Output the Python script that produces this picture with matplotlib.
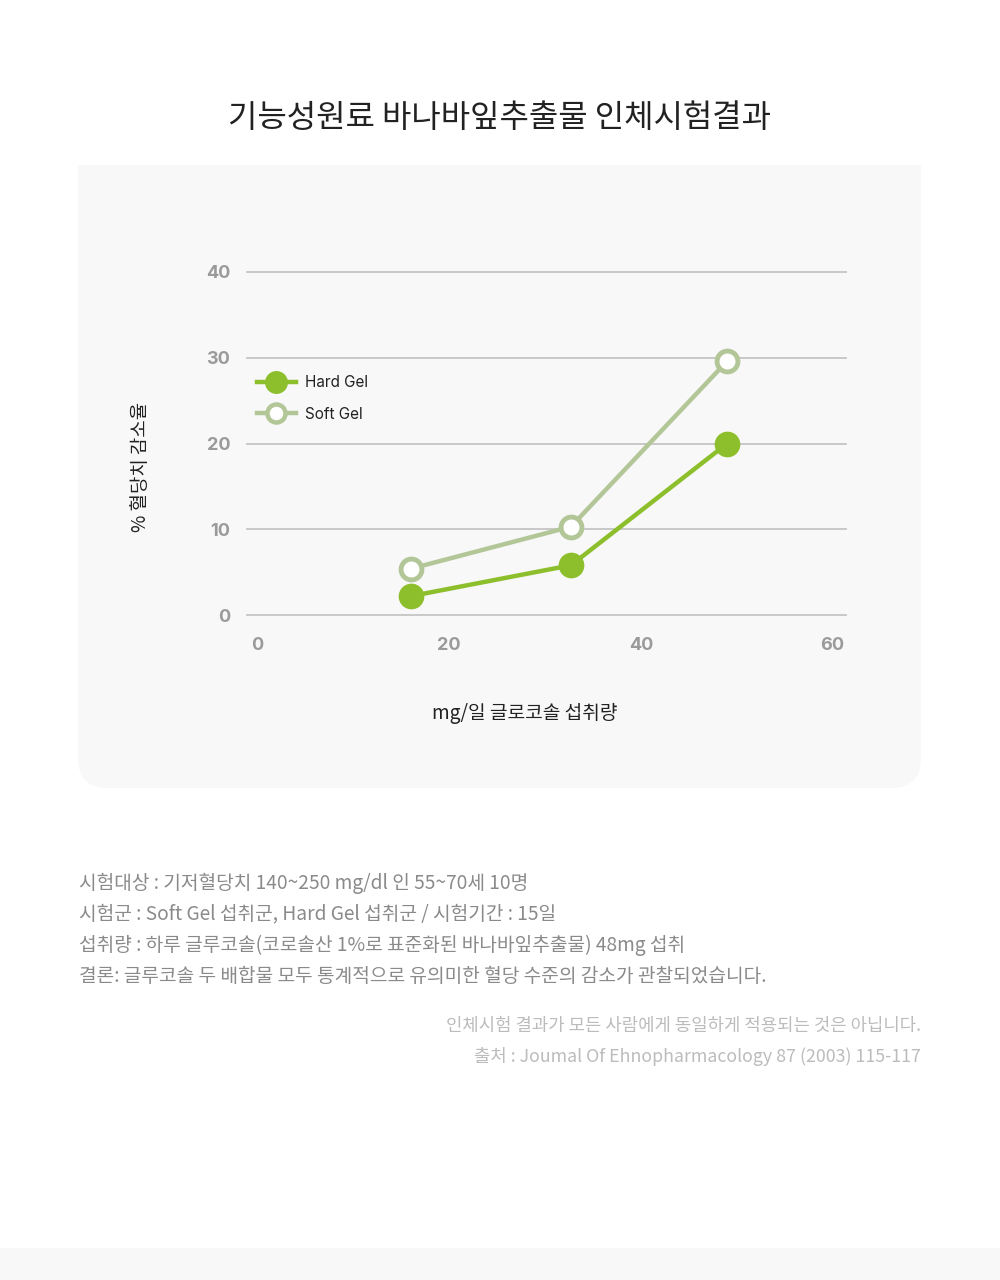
import matplotlib
matplotlib.use('Agg')
import matplotlib.pyplot as plt
from matplotlib.patches import FancyBboxPatch, Rectangle
from matplotlib.lines import Line2D

plt.rcParams['font.family'] = ['Noto Sans CJK KR', 'DejaVu Sans']

title = '기능성원료 바나바잎추출물 인체시험결과'
y_label = '% 혈당치 감소율'
x_label = 'mg/일 글로코솔 섭취량'

dose = [16, 32.7, 49]
hard_gel = [2.2, 5.8, 20.0]
soft_gel = [5.4, 10.3, 29.6]
series_names = ['Hard Gel', 'Soft Gel']

x_ticks = [0, 20, 40, 60]
y_ticks = [0, 10, 20, 30, 40]

notes = [
    '시험대상 : 기저혈당치 140~250 mg/dl 인 55~70세 10명',
    '시험군 : Soft Gel 섭취군, Hard Gel 섭취군 / 시험기간 : 15일',
    '섭취량 : 하루 글루코솔(코로솔산 1%로 표준화된 바나바잎추출물) 48mg 섭취',
    '결론: 글루코솔 두 배합물 모두 통계적으로 유의미한 혈당 수준의 감소가 관찰되었습니다.',
]
disclaimer = [
    '인체시험 결과가 모든 사람에게 동일하게 적용되는 것은 아닙니다.',
    '출처 : Joumal Of Ehnopharmacology 87 (2003) 115-117',
]

W, H = 1000, 1280
fig = plt.figure(figsize=(10, 12.8), dpi=100)
fig.patch.set_facecolor('white')


def fx(px):
    return px / W


def fy(py):
    return 1 - py / H


panel_color = '#f8f8f8'
fig.patches.append(FancyBboxPatch((fx(78) + 0.03, fy(788) + 0.03 * 10 / 12.8),
                                  fx(843) - 0.06, (788 - 165) / H - 0.06 * 10 / 12.8,
                                  boxstyle='round,pad=0.03', transform=fig.transFigure,
                                  facecolor=panel_color, edgecolor='none',
                                  mutation_aspect=10 / 12.8, zorder=-2))
fig.patches.append(Rectangle((fx(78), fy(300)), fx(843), 135 / H,
                             transform=fig.transFigure, facecolor=panel_color,
                             edgecolor='none', zorder=-2))
fig.patches.append(Rectangle((0, 0), 1, 32 / H, transform=fig.transFigure,
                             facecolor=panel_color, edgecolor='none', zorder=-2))

fig.text(0.5, fy(118), title, ha='center', va='center', fontsize=23, color='#222222')

# axes: x -1.1..61.4 spans px 247..846, y 0..40 spans px 615..272
ax = fig.add_axes([fx(247), fy(615), fx(599), (615 - 272) / H])
ax.set_zorder(1)
ax.set_facecolor('none')
ax.set_xlim(-1.1, 61.4)
ax.set_ylim(0, 40)
for s in ax.spines.values():
    s.set_visible(False)
for y in y_ticks:
    ax.axhline(y, color='#c4c4c4', lw=1.3, zorder=1, clip_on=False)

hard_color = '#8dbf2c'
soft_color = '#b3c697'
ax.plot(dose, soft_gel, color=soft_color, lw=3.2, marker='o', ms=15,
        mfc='white', mec=soft_color, mew=3.5, zorder=3, clip_on=False)
ax.plot(dose, hard_gel, color=hard_color, lw=3.2, marker='o', ms=18.5,
        mfc=hard_color, mec=hard_color, mew=0, zorder=4, clip_on=False)

ax.set_xticks(x_ticks)
ax.set_yticks(y_ticks)
ax.tick_params(length=0, labelsize=13, labelcolor='#9a9a9a')
ax.tick_params(axis='y', pad=12)
ax.tick_params(axis='x', pad=16)
for lab in ax.get_xticklabels() + ax.get_yticklabels():
    lab.set_fontweight('bold')
    lab.set_family(['Inter', 'DejaVu Sans'])

handles = [
    Line2D([], [], color=hard_color, lw=3.2, marker='o', ms=16.5, mfc=hard_color, mew=0),
    Line2D([], [], color=soft_color, lw=3.2, marker='o', ms=13, mfc='white',
           mec=soft_color, mew=3.2),
]
leg = ax.legend(handles, series_names, loc='upper left',
                bbox_to_anchor=((257 - 247) / 599, (615 - 375) / 343),
                frameon=False, fontsize=11, handlelength=2.55, handletextpad=0.6,
                labelspacing=1.1, borderaxespad=0, borderpad=0)
for t in leg.get_texts():
    t.set_color('#222222')
    t.set_family(['Inter', 'DejaVu Sans'])

fig.text(fx(141), fy(467), y_label, rotation=90, ha='center', va='center',
         fontsize=13.6, color='#222222')
fig.text(fx(525), fy(713), x_label, ha='center', va='center',
         fontsize=13.8, color='#222222')

for i, line in enumerate(notes):
    fig.text(fx(79), fy(883 + 31 * i), line, ha='left', va='center',
             fontsize=13.8, color='#8a8a8a')
for i, line in enumerate(disclaimer):
    fig.text(fx(921), fy(1026 + 30 * i), line, ha='right', va='center',
             fontsize=12.8, color='#bcbcbc')

fig.savefig('out.png', dpi=100, facecolor='white')
